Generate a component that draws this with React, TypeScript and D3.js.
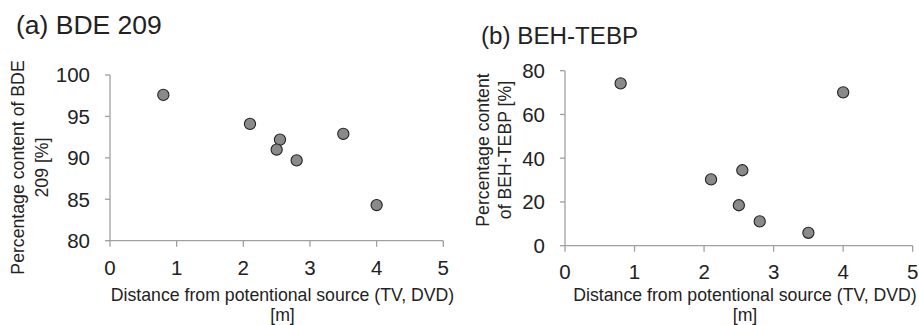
import React from "react";
import * as d3 from "d3";

const distances = [0.8, 2.1, 2.55, 2.5, 2.8, 3.5, 4.0];
const bdeValues = [97.6, 94.1, 92.2, 91.0, 89.7, 92.9, 84.3];
const tebpDistances = [0.8, 4.0, 2.55, 2.1, 2.5, 2.8, 3.5];
const tebpValues = [74.2, 70.1, 34.5, 30.3, 18.5, 11.1, 5.9];
const xTicks = [0, 1, 2, 3, 4, 5];
const bdeTicks = [80, 85, 90, 95, 100];
const tebpTicks = [0, 20, 40, 60, 80];

const FONT = "'Liberation Sans', Arial, sans-serif";
const AXIS = "#a0a0a0";
const TEXT = "#222";

type PanelProps = {
  title: string;
  titleX: number;
  titleY: number;
  titleSize: number;
  x0: number;
  x1: number;
  y0: number;
  y1: number;
  yDomain: [number, number];
  yTicks: number[];
  xs: number[];
  ys: number[];
  yTitle: string[];
  yTitleX: number[];
  yTitleCY: number;
  xTitleCX: number;
  xTickOffset: number;
  xTitleOffset: number;
  xTitle2Offset: number;
};

function Panel(p: PanelProps) {
  const x = d3.scaleLinear().domain([0, 5]).range([p.x0, p.x1]);
  const y = d3.scaleLinear().domain(p.yDomain).range([p.y0, p.y1]);
  return (
    <g fontFamily={FONT}>
      <text x={p.titleX} y={p.titleY} fontSize={p.titleSize} fill={TEXT}>{p.title}</text>
      <line x1={p.x0} x2={p.x0} y1={p.y1} y2={p.y0} stroke={AXIS} strokeWidth={1.3} />
      <line x1={p.x0} x2={p.x1} y1={p.y0} y2={p.y0} stroke={AXIS} strokeWidth={1.3} />
      {p.yTicks.map((t) => (
        <g key={"y" + t}>
          <line x1={p.x0 - 5} x2={p.x0} y1={y(t)} y2={y(t)} stroke={AXIS} strokeWidth={1.3} />
          <text x={p.x0 - 20} y={y(t)} dy="0.36em" textAnchor="end" fontSize={20.5} fill={TEXT}>{t}</text>
        </g>
      ))}
      {xTicks.map((t) => (
        <g key={"x" + t}>
          <line x1={x(t)} x2={x(t)} y1={p.y0} y2={p.y0 + 6} stroke={AXIS} strokeWidth={1.3} />
          <text x={x(t)} y={p.y0 + p.xTickOffset} textAnchor="middle" fontSize={20.5} fill={TEXT}>{t}</text>
        </g>
      ))}
      {p.xs.map((d, i) => (
        <circle key={i} cx={x(d)} cy={y(p.ys[i])} r={5.6} fill="#8a8a8a" stroke="#222" strokeWidth={1.1} />
      ))}
      <text x={p.xTitleCX} y={p.y0 + p.xTitleOffset} textAnchor="middle" fontSize={17.7} fill={TEXT}>Distance from potentional source (TV, DVD)</text>
      <text x={p.xTitleCX} y={p.y0 + p.xTitle2Offset} textAnchor="middle" fontSize={17.7} fill={TEXT}>[m]</text>
      {p.yTitle.map((s, i) => (
        <text key={i} transform={`translate(${p.yTitleX[i]},${p.yTitleCY}) rotate(-90)`} textAnchor="middle" dy="0.36em" fontSize={17.7} fill={TEXT}>{s}</text>
      ))}
    </g>
  );
}

export default function App() {
  return (
    <svg width={919} height={325} style={{ position: "absolute", left: 0, top: 0, background: "#fff" }}>
      <rect width={919} height={325} fill="#fff" />
      <Panel
        title="(a) BDE 209"
        titleX={16}
        titleY={34}
        titleSize={26.5}
        x0={110}
        x1={443.3}
        y0={240.7}
        y1={75}
        yDomain={[80, 100]}
        yTicks={bdeTicks}
        xs={distances}
        ys={bdeValues}
        yTitle={["Percentage content of BDE", "209 [%]"]}
        yTitleX={[18, 42]}
        yTitleCY={167.5}
        xTitleCX={282.5}
        xTickOffset={34.3}
        xTitleOffset={60.5}
        xTitle2Offset={80.5}
      />
      <Panel
        title="(b) BEH-TEBP"
        titleX={481}
        titleY={43.5}
        titleSize={24.2}
        x0={565}
        x1={912.7}
        y0={245.7}
        y1={70.7}
        yDomain={[0, 80]}
        yTicks={tebpTicks}
        xs={tebpDistances}
        ys={tebpValues}
        yTitle={["Percentage content", "of BEH-TEBP [%]"]}
        yTitleX={[483, 505]}
        yTitleCY={150}
        xTitleCX={745}
        xTickOffset={33.5}
        xTitleOffset={55.5}
        xTitle2Offset={75.5}
      />
    </svg>
  );
}
